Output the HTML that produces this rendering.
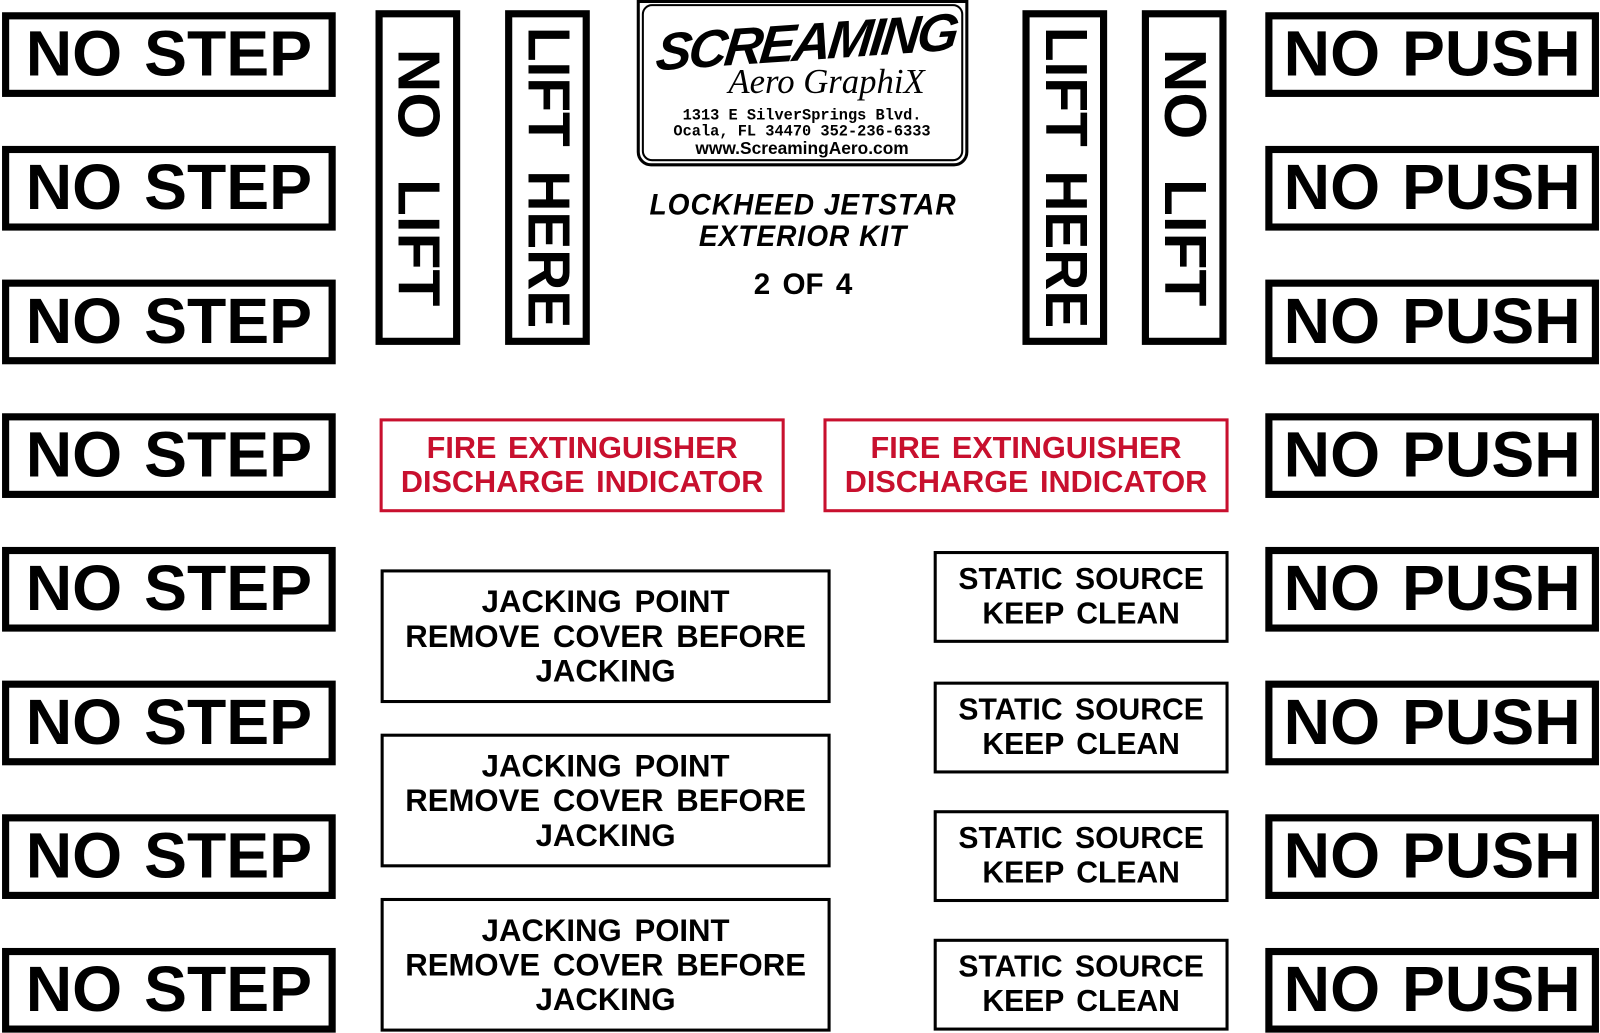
<!DOCTYPE html>
<html><head><meta charset="utf-8"><style>
html,body{margin:0;padding:0;background:#fff;overflow:hidden;width:1600px;height:1032px}
#w{position:absolute;left:0;top:0;width:1568px;height:1011px;transform:scale(1.020408);transform-origin:0 0;font-family:"Liberation Sans",Arial,sans-serif;font-weight:bold;color:#000}
.b{position:absolute;box-sizing:border-box;display:flex;align-items:center;justify-content:center;text-align:center}
.big{border:7px solid #000;width:327px;height:83px;font-size:63px;word-spacing:4px;line-height:1}
.v{border:7px solid #000;width:83px;height:328px}
.v span{display:block;transform:rotate(90deg) scaleX(.96);font-size:58px;white-space:nowrap;word-spacing:8px;line-height:1}
.v span.nl{word-spacing:22px;transform:rotate(90deg) scaleX(1.02)}
.fire{border:3px solid #c8102e;color:#c8102e;font-size:30px;line-height:33px;width:397px;height:92px;word-spacing:3px}
.jack{border:3px solid #000;width:441px;height:131px;font-size:30.5px;line-height:34px;word-spacing:4px}
.stat{border:3px solid #000;width:289px;height:90px;font-size:29.5px;line-height:34px;word-spacing:4px}
.t{position:absolute;text-align:center;white-space:nowrap}
</style></head><body><div id="w">
<div class="b big" style="left:2px;top:12px">NO STEP</div>
<div class="b big" style="left:2px;top:143px">NO STEP</div>
<div class="b big" style="left:2px;top:274px">NO STEP</div>
<div class="b big" style="left:2px;top:405px">NO STEP</div>
<div class="b big" style="left:2px;top:536px">NO STEP</div>
<div class="b big" style="left:2px;top:667px">NO STEP</div>
<div class="b big" style="left:2px;top:798px">NO STEP</div>
<div class="b big" style="left:2px;top:929px">NO STEP</div>
<div class="b big" style="left:1240px;top:12px">NO PUSH</div>
<div class="b big" style="left:1240px;top:143px">NO PUSH</div>
<div class="b big" style="left:1240px;top:274px">NO PUSH</div>
<div class="b big" style="left:1240px;top:405px">NO PUSH</div>
<div class="b big" style="left:1240px;top:536px">NO PUSH</div>
<div class="b big" style="left:1240px;top:667px">NO PUSH</div>
<div class="b big" style="left:1240px;top:798px">NO PUSH</div>
<div class="b big" style="left:1240px;top:929px">NO PUSH</div>
<div class="b v" style="left:368px;top:10px"><span class="nl">NO LIFT</span></div>
<div class="b v" style="left:495px;top:10px"><span>LIFT HERE</span></div>
<div class="b v" style="left:1002px;top:10px"><span>LIFT HERE</span></div>
<div class="b v" style="left:1119px;top:10px"><span class="nl">NO LIFT</span></div>
<div style="position:absolute;left:624px;top:0;width:325px;height:163px;box-sizing:border-box;border:3px solid #000;border-radius:0 0 14px 14px"></div>
<div style="position:absolute;left:629px;top:4px;width:315px;height:154px;box-sizing:border-box;border:2px solid #000;border-radius:10px"></div>
<div class="t" style="left:640px;top:12px;width:300px;font-size:52px;font-style:italic;transform:skewX(-10deg) rotate(-4deg);letter-spacing:-3px">SCREAMING</div>
<div class="t" style="left:670px;top:62px;width:280px;font-size:34px;font-style:italic;font-weight:normal;font-family:'Liberation Serif',serif">Aero GraphiX</div>
<div class="t" style="left:630px;top:106px;width:312px;font-size:15px;line-height:16px;font-family:'Liberation Mono',monospace">1313 E SilverSprings Blvd.<br>Ocala, FL 34470 352-236-6333<br><span style="font-family:'Liberation Sans',sans-serif;font-size:17px">www.ScreamingAero.com</span></div>
<div class="t" style="left:600px;top:186px;width:374px;font-size:29px;line-height:31px;font-style:italic;letter-spacing:1px;transform:scaleX(.95)">LOCKHEED JETSTAR<br>EXTERIOR KIT</div>
<div class="t" style="left:687px;top:263px;width:200px;font-size:29px;word-spacing:4px">2 OF 4</div>
<div class="b fire" style="left:372px;top:410px">FIRE EXTINGUISHER<br>DISCHARGE INDICATOR</div>
<div class="b fire" style="left:807px;top:410px">FIRE EXTINGUISHER<br>DISCHARGE INDICATOR</div>
<div class="b jack" style="left:373px;top:558px">JACKING POINT<br>REMOVE COVER BEFORE<br>JACKING</div>
<div class="b jack" style="left:373px;top:719px">JACKING POINT<br>REMOVE COVER BEFORE<br>JACKING</div>
<div class="b jack" style="left:373px;top:880px">JACKING POINT<br>REMOVE COVER BEFORE<br>JACKING</div>
<div class="b stat" style="left:915px;top:540px">STATIC SOURCE<br>KEEP CLEAN</div>
<div class="b stat" style="left:915px;top:668px">STATIC SOURCE<br>KEEP CLEAN</div>
<div class="b stat" style="left:915px;top:794px">STATIC SOURCE<br>KEEP CLEAN</div>
<div class="b stat" style="left:915px;top:920px">STATIC SOURCE<br>KEEP CLEAN</div>
</div></body></html>
